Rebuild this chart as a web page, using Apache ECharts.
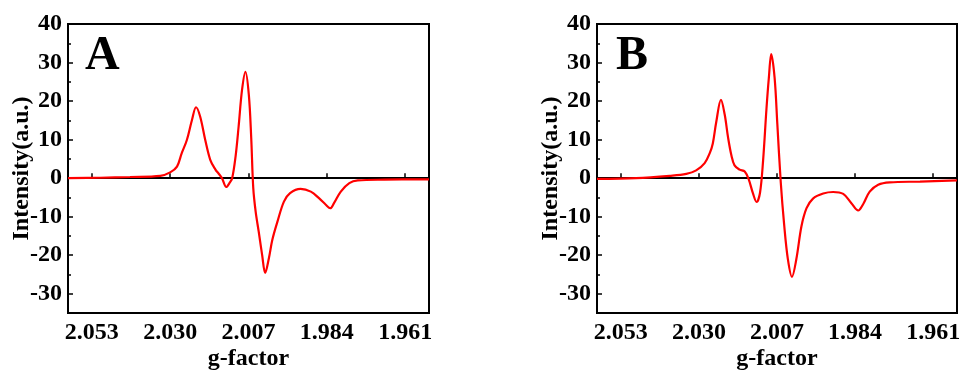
<!DOCTYPE html>
<html>
<head>
<meta charset="utf-8">
<script src="https://cdn.jsdelivr.net/npm/echarts@6/dist/echarts.min.js"></script>
<style>
  html, body { margin: 0; padding: 0; background: #fff; }
  #epr { width: 963px; height: 374px; }
</style>
</head>
<body>
<div id="epr"></div>
<script>
// spectrum A (g-factor, intensity)
var gA = [2.0600, 2.0506, 2.0418, 2.0329, 2.0300, 2.0280, 2.0266, 2.0251, 2.0236, 2.0224,
  2.0212, 2.0197, 2.0182, 2.0167, 2.0158, 2.0148, 2.0135, 2.0126, 2.0118, 2.0108,
  2.0099, 2.0089, 2.0079, 2.0069, 2.0062, 2.0056, 2.0049, 2.0040, 2.0030, 2.0021,
  2.0010, 2.0000, 1.9985, 1.9966, 1.9948, 1.9917, 1.9887, 1.9863, 1.9843, 1.9830,
  1.9819, 1.9799, 1.9774, 1.9749, 1.9671, 1.9540];
var intA = [0.0, 0.1, 0.3, 0.6, 1.5, 3.0, 6.5, 9.9, 15.1, 18.4,
  16.0, 9.9, 4.7, 2.2, 1.2, 0.0, -2.3, -1.3, 0.0, 5.6,
  13.4, 22.9, 27.6, 21.6, 10.4, -2.6, -8.7, -13.9, -19.9, -24.6,
  -20.7, -16.0, -11.3, -6.1, -3.9, -2.8, -3.5, -5.2, -6.9, -7.8,
  -6.5, -3.5, -1.3, -0.6, -0.4, -0.3];

// spectrum B
var gB = [2.0600, 2.0485, 2.0386, 2.0337, 2.0308, 2.0283, 2.0268, 2.0259, 2.0249, 2.0235,
  2.0224, 2.0214, 2.0204, 2.0195, 2.0180, 2.0165, 2.0153, 2.0141, 2.0130, 2.0120,
  2.0111, 2.0101, 2.0094, 2.0087, 2.0077, 2.0069, 2.0059, 2.0049, 2.0038, 2.0026,
  2.0013, 1.9998, 1.9983, 1.9964, 1.9934, 1.9905, 1.9875, 1.9851, 1.9831, 1.9816,
  1.9797, 1.9772, 1.9738, 1.9649, 1.9540];
var intB = [-0.2, 0.0, 0.6, 1.1, 2.0, 3.9, 6.5, 9.0, 14.5, 20.3,
  16.5, 10.5, 5.8, 3.3, 2.2, 1.7, -0.4, -3.9, -6.2, -3.8,
  4.5, 18.0, 26.0, 32.2, 26.0, 14.0, -1.0, -12.0, -21.0, -25.6,
  -21.0, -12.5, -7.8, -5.3, -4.0, -3.6, -4.1, -6.5, -8.4, -6.7,
  -3.5, -1.7, -1.1, -0.9, -0.6];

var gTicks = [2.053, 2.030, 2.007, 1.984, 1.961];
var yTicks = [-30, -20, -10, 0, 10, 20, 30, 40];
var yMinorTicks = [-25, -15, -5, 5, 15, 25, 35];
var panelNames = ["A", "B"];

var fontName = '"Liberation Serif", "Times New Roman", serif';

function pairs(g, v) {
  return g.map(function (x, i) {
    return [x, v[i]];
  });
}

var grids = [
  { left: 68, right: 534, top: 24, bottom: 61 },
  { left: 597, right: 6, top: 24, bottom: 61 },
];

var xAxes = [], yAxes = [], graphics = [];
grids.forEach(function (gr, i) {
  gr.show = true;
  gr.borderColor = "#000";
  gr.borderWidth = 2;
  gr.backgroundColor = "transparent";
  gr.containLabel = false;
  gr.outerBoundsMode = "none";

  xAxes.push({
    gridIndex: i,
    type: "value",
    inverse: true,
    min: 1.954,
    max: 2.06,
    name: "g-factor",
    nameLocation: "middle",
    nameGap: 34,
    nameMoveOverlap: false,
    nameTextStyle: { fontFamily: fontName, fontWeight: "bold", fontSize: 24, color: "#000" },
    axisLine: { lineStyle: { color: "#000", width: 2 } },
    axisTick: { inside: true, length: 5, lineStyle: { color: "#000", width: 1.5 }, customValues: gTicks },
    axisLabel: {
      customValues: gTicks,
      margin: 8,
      fontFamily: fontName,
      fontWeight: "bold",
      fontSize: 24,
      color: "#000",
      formatter: function (v) {
        return v.toFixed(3);
      },
    },
    splitLine: { show: false },
  });

  // main y axis with labels
  yAxes.push({
    gridIndex: i,
    type: "value",
    min: -35,
    max: 40,
    name: "Intensity(a.u.)",
    nameLocation: "middle",
    nameGap: 34,
    nameMoveOverlap: false,
    nameTextStyle: { fontFamily: fontName, fontWeight: "bold", fontSize: 24, color: "#000" },
    axisLine: { lineStyle: { color: "#000", width: 2 } },
    axisTick: { inside: true, length: 5, lineStyle: { color: "#000", width: 1.5 }, customValues: yTicks },
    axisLabel: {
      customValues: yTicks,
      margin: 6,
      fontFamily: fontName,
      fontWeight: "bold",
      fontSize: 24,
      color: "#000",
    },
    splitLine: { show: false },
  });
  // minor ticks only
  yAxes.push({
    gridIndex: i,
    type: "value",
    min: -35,
    max: 40,
    position: "left",
    axisLine: { show: false },
    axisTick: { inside: true, length: 3, lineStyle: { color: "#000", width: 1.5 }, customValues: yMinorTicks },
    axisLabel: { show: false },
    splitLine: { show: false },
  });

  graphics.push({
    type: "text",
    left: gr.left + (i == 0 ? 17 : 19),
    top: 33,
    style: { text: panelNames[i], font: "bold 48px " + fontName, fill: "#000" },
  });
});

var myChart = echarts.init(document.getElementById("epr"));
myChart.setOption({
  animation: false,
  grid: grids,
  xAxis: xAxes,
  yAxis: yAxes,
  graphic: graphics,
  series: [
    {
      type: "line",
      xAxisIndex: 0,
      yAxisIndex: 0,
      data: pairs(gA, intA),
      smooth: 0.35,
      symbol: "none",
      lineStyle: { color: "#ff0000", width: 2.2 },
    },
    {
      type: "line",
      xAxisIndex: 1,
      yAxisIndex: 2,
      data: pairs(gB, intB),
      smooth: 0.35,
      symbol: "none",
      lineStyle: { color: "#ff0000", width: 2.2 },
    },
  ],
});
</script>
</body>
</html>
